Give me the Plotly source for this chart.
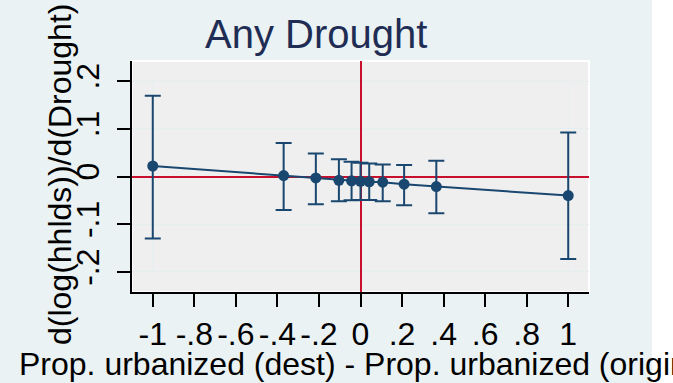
import plotly.graph_objects as go

# Data
x_vals = [-1.0, -0.37, -0.215, -0.104, -0.043, 0.0, 0.042, 0.107, 0.21, 0.365, 1.0]
estimate = [0.022, 0.002, -0.003, -0.008, -0.009, -0.010, -0.011, -0.012, -0.016, -0.021, -0.040]
ci_high = [0.169, 0.070, 0.048, 0.036, 0.031, 0.029, 0.027, 0.025, 0.024, 0.033, 0.092]
ci_low = [-0.130, -0.070, -0.058, -0.052, -0.050, -0.049, -0.049, -0.052, -0.060, -0.077, -0.173]

x_tickvals = [-1, -0.8, -0.6, -0.4, -0.2, 0, 0.2, 0.4, 0.6, 0.8, 1]
x_ticktext = ["-1", "-.8", "-.6", "-.4", "-.2", "0", ".2", ".4", ".6", ".8", "1"]
y_tickvals = [-0.2, -0.1, 0, 0.1, 0.2]
y_ticktext = ["-.2", "-.1", "0", ".1", ".2"]

title_text = "Any Drought"
x_title = "Prop. urbanized (dest) - Prop. urbanized (origin)"
y_title = "d(log(hhlds))/d(Drought)"

NAVY = "#1A476F"
RED = "#C8102E"
FONT = "Arial, Liberation Sans, sans-serif"

W, H = 673, 383
ML, MR, MT, MB = 132, 84, 61, 91
PW = W - ML - MR
PH = H - MT - MB


def px_x(px):
    return (px - ML) / PW


def px_y(py):
    return (H - MB - py) / PH


err_plus = [h - e for h, e in zip(ci_high, estimate)]
err_minus = [e - l for e, l in zip(estimate, ci_low)]

fig = go.Figure()
fig.add_trace(go.Scatter(
    x=x_vals, y=estimate, mode="lines+markers",
    line=dict(color=NAVY, width=2),
    marker=dict(color=NAVY, size=11),
    error_y=dict(type="data", symmetric=False, array=err_plus, arrayminus=err_minus,
                 color=NAVY, thickness=2, width=8),
    showlegend=False,
))

fig.update_layout(
    width=W, height=H,
    margin=dict(l=ML, r=MR, t=MT, b=MB),
    paper_bgcolor="#EAF2F3",
    plot_bgcolor="#EFEFEF",
    font=dict(family=FONT, size=32, color="black"),
    showlegend=False,
    xaxis=dict(
        range=[-1.1, 1.1], tickvals=x_tickvals, ticktext=x_ticktext,
        showline=True, linecolor="black", linewidth=2,
        ticks="outside", ticklen=13, tickwidth=2, tickcolor="black",
        showgrid=False, zeroline=True, zerolinecolor=RED, zerolinewidth=2,
        tickfont=dict(size=32, family=FONT, color="black"),
    ),
    yaxis=dict(
        range=[-0.242, 0.242], tickvals=y_tickvals, ticktext=y_ticktext,
        showline=True, linecolor="black", linewidth=2,
        ticks="outside", ticklen=13, tickwidth=2, tickcolor="black",
        showgrid=True, gridcolor="#E6EEF0", gridwidth=1,
        zeroline=True, zerolinecolor=RED, zerolinewidth=2,
        tickangle=-90, ticklabelstandoff=5,
        tickfont=dict(size=32, family=FONT, color="black"),
    ),
    shapes=[
        dict(type="rect", xref="paper", yref="paper", x0=px_x(652), x1=px_x(W + 5),
             y0=-1, y1=2, fillcolor="white", line=dict(width=0), layer="below"),
        dict(type="rect", xref="paper", yref="paper", x0=0, x1=1, y0=0, y1=1,
             line=dict(color="white", width=2), layer="below"),
        dict(type="rect", xref="x", yref="y", x0=x_tickvals[0], x1=x_tickvals[-1],
             y0=y_tickvals[0], y1=y_tickvals[-1], line=dict(color="#E6EEF0", width=1),
             layer="below"),
    ],
    annotations=[
        dict(text=title_text, xref="paper", yref="paper", x=px_x(316), y=px_y(34),
             xanchor="center", yanchor="middle", showarrow=False,
             font=dict(size=40, family=FONT, color="#1F2D55")),
        dict(text=x_title, xref="paper", yref="paper", x=px_x(358), y=px_y(364),
             xanchor="center", yanchor="middle", showarrow=False,
             font=dict(size=32, family=FONT, color="black")),
        dict(text=y_title, xref="paper", yref="paper", x=px_x(60), y=px_y(175),
             xanchor="center", yanchor="middle", showarrow=False, textangle=-90,
             font=dict(size=32, family=FONT, color="black")),
    ],
)

fig.write_html("out.html")
